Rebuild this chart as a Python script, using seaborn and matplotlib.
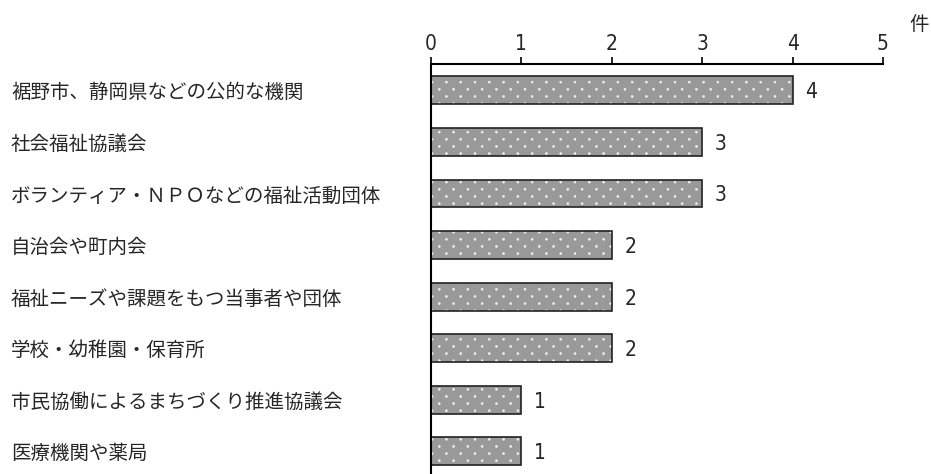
import numpy as np
import pandas as pd
import matplotlib
matplotlib.use("Agg")
import matplotlib.pyplot as plt
from matplotlib import hatch as mhatch
from matplotlib.path import Path
import seaborn as sns

# ----- データ -----
categories = [
    "裾野市、静岡県などの公的な機関",
    "社会福祉協議会",
    "ボランティア・ＮＰＯなどの福祉活動団体",
    "自治会や町内会",
    "福祉ニーズや課題をもつ当事者や団体",
    "学校・幼稚園・保育所",
    "市民協働によるまちづくり推進協議会",
    "医療機関や薬局",
]
counts = [4, 3, 3, 2, 2, 2, 1, 1]
xticks = [0, 1, 2, 3, 4, 5]

df = pd.DataFrame({"category": categories, "count": counts})


# ----- 細かい白点のハッチ (標準の '.' を置き換え) -----
class DotLattice(mhatch.HatchPatternBase):
    cols, rows, radius = 7, 14, 0.01

    def __init__(self, hatch, density):
        circle = Path.unit_circle()
        self.cv, self.cc = circle.vertices, circle.codes
        self.pts = []
        if "." in hatch:
            for r in range(self.rows):
                off = 0.5 / self.cols if r % 2 else 0
                for c in range(self.cols):
                    self.pts.append(((c + 0.25) / self.cols + off, (r + 0.5) / self.rows))
        self.num_vertices = len(self.pts) * len(self.cv)

    def set_vertices_and_codes(self, vertices, codes):
        k = len(self.cv)
        for i, (x, y) in enumerate(self.pts):
            vertices[i * k:(i + 1) * k] = self.cv * self.radius + (x, y)
            codes[i * k:(i + 1) * k] = self.cc


mhatch._hatch_types[mhatch._hatch_types.index(mhatch.SmallFilledCircles)] = DotLattice

sns.set_theme(style="white")
plt.rcParams["font.family"] = ["Noto Sans CJK JP", "DejaVu Sans"]
plt.rcParams["hatch.linewidth"] = 0.4

fig = plt.figure(figsize=(9.31, 4.74), dpi=100)
ax = fig.add_axes([431 / 931, 0, 452 / 931, 410 / 474])

# 塗り + 白い点
sns.barplot(data=df, x="count", y="category", order=categories,
            color="#999999", width=0.54, ax=ax, saturation=1)
for p in ax.patches:
    p.set_hatch(".")
    p.set_edgecolor("#f2f2f2")
    p.set_linewidth(0)

# 黒い枠線
sns.barplot(data=df, x="count", y="category", order=categories,
            fill=False, edgecolor="#222222", linewidth=1.2, width=0.54, ax=ax)

for c in ax.containers[1:]:
    labs = ax.bar_label(c, padding=9, fontsize=15, family="DejaVu Sans",
                        fontstretch="condensed")
    for t in labs:
        t.set_verticalalignment("center_baseline")

ax.set_xlim(0, 5)
ax.set_ylim(7.44, -0.51)
ax.set_xticks(xticks)
ax.set_xticklabels([str(t) for t in xticks], family="DejaVu Sans",
                   fontstretch="condensed")
ax.xaxis.tick_top()
ax.tick_params(axis="x", direction="out", length=5, width=1.2, color="black",
               labelsize=15, pad=2, top=True, bottom=False)
ax.tick_params(axis="y", length=0, labelsize=14, pad=(431 - 11) * 0.72)
for lab in ax.get_yticklabels():
    lab.set_horizontalalignment("left")

ax.set_xlabel("")
ax.set_ylabel("")
for s in ["right", "bottom"]:
    ax.spines[s].set_visible(False)
for s in ["top", "left"]:
    ax.spines[s].set_color("black")
    ax.spines[s].set_linewidth(1.5)

fig.text(919 / 931, 1 - 22 / 474, "件", fontsize=14, ha="center", va="center_baseline")

fig.savefig("out.png", dpi=100)
